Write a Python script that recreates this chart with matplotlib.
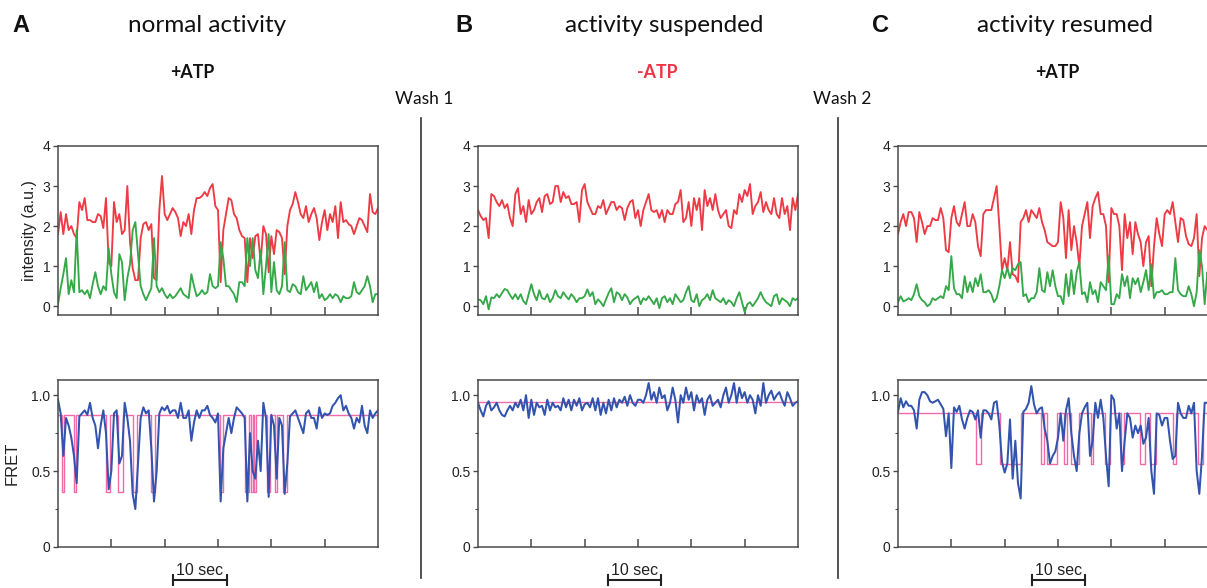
import numpy as np
import matplotlib
matplotlib.use("Agg")
import matplotlib.pyplot as plt
from matplotlib.lines import Line2D
from matplotlib.transforms import blended_transform_factory

# ---------------- data ----------------
DURATION = 60.0  # seconds shown on each trace (samples every 0.5 s)

panel_letters = ["A", "B", "C"]
panel_titles = ["normal activity", "activity suspended", "activity resumed"]
conditions = ["+ATP", "-ATP", "+ATP"]
wash_labels = ["Wash 1", "Wash 2"]
intensity_ticks = [0, 1, 2, 3, 4]
fret_ticks = [0, 0.5, 1.0]
fret_tick_labels = ["0", "0.5", "1.0"]
scale_bar_label = "10 sec"
scale_bar_length = 10.0

a_red = [1.8, 2.35, 1.8, 2.3, 1.9, 2.0, 1.8, 1.7, 2.6, 2.4,
         2.7, 2.15, 2.15, 2.1, 2.1, 2.3, 2.25, 1.95, 2.7, 1.1,
         1.0, 2.6, 2.1, 2.3, 1.8, 1.9, 3.0, 1.6, 0.95, 0.65,
         0.65, 1.7, 2.05, 2.1, 1.9, 2.05, 0.7, 0.65, 2.4, 3.25,
         2.3, 2.15, 2.3, 2.45, 2.35, 2.2, 1.75, 2.1, 2.0, 2.3,
         1.8, 2.4, 2.7, 2.7, 2.75, 2.85, 2.75, 2.95, 3.05, 2.5,
         2.4, 0.6, 1.9, 2.3, 2.7, 2.65, 2.3, 2.2, 1.9, 1.75,
         1.7, 0.6, 1.7, 1.2, 1.75, 1.8, 1.1, 2.0, 1.8, 0.85,
         1.75, 1.3, 1.9, 1.85, 1.7, 0.8, 2.0, 2.4, 2.55, 2.85,
         2.6, 2.3, 2.2, 2.5, 2.1, 2.3, 2.45, 2.2, 1.65, 2.1,
         2.4, 1.9, 2.3, 2.1, 2.5, 1.7, 2.6, 2.1, 2.15, 2.05,
         2.0, 1.8, 2.0, 2.2, 2.15, 2.0, 1.85, 2.8, 2.35, 2.3,
         2.45]
a_green = [0.05, 0.45, 0.8, 1.2, 0.3, 0.65, 0.35, 1.9, 0.35, 0.4,
           0.3, 0.4, 0.2, 0.55, 0.85, 0.5, 0.3, 0.5, 0.4, 1.45,
           0.8, 0.35, 0.2, 1.3, 1.1, 0.15, 0.7, 1.05, 1.9, 2.1,
           1.3, 0.5, 0.3, 0.15, 0.3, 0.45, 1.7, 0.5, 0.35, 0.45,
           0.3, 0.2, 0.3, 0.2, 0.25, 0.35, 0.45, 0.3, 0.25, 0.2,
           0.8, 0.5, 0.25, 0.3, 0.4, 0.3, 0.35, 0.8, 0.5, 0.45,
           0.5, 1.6, 1.2, 0.5, 0.5, 0.4, 0.3, 0.1, 0.6, 0.6,
           0.5, 1.7, 1.0, 1.7, 0.9, 0.7, 1.4, 0.3, 1.0, 1.8,
           0.35, 1.1, 0.4, 0.3, 0.5, 1.6, 0.4, 0.35, 0.55, 0.5,
           0.35, 0.3, 0.75, 0.4, 0.5, 0.6, 0.35, 0.6, 0.2, 0.3,
           0.15, 0.2, 0.3, 0.2, 0.3, 0.25, 0.1, 0.25, 0.2, 0.2,
           0.25, 0.6, 0.35, 0.3, 0.4, 0.5, 0.75, 0.5, 0.1, 0.3,
           0.3]
a_fret = [0.97, 0.88, 0.6, 0.85, 0.8, 0.72, 0.6, 0.42, 0.86, 0.88,
          0.9, 0.87, 0.95, 0.85, 0.8, 0.65, 0.8, 0.9, 0.75, 0.38,
          0.5, 0.88, 0.9, 0.55, 0.6, 0.95, 0.85, 0.7, 0.35, 0.25,
          0.55, 0.85, 0.92, 0.88, 0.9, 0.65, 0.3, 0.5, 0.88, 0.92,
          0.9, 0.93, 0.88, 0.9, 0.9, 0.85, 0.95, 0.85, 0.85, 0.9,
          0.7, 0.82, 0.9, 0.85, 0.9, 0.9, 0.93, 0.87, 0.85, 0.82,
          0.88, 0.3, 0.65, 0.75, 0.85, 0.75, 0.85, 0.92, 0.9, 0.88,
          0.85, 0.3, 0.75, 0.5, 0.45, 0.7, 0.5, 0.95, 0.85, 0.33,
          0.87, 0.8, 0.45, 0.85, 0.8, 0.35, 0.55, 0.86, 0.88, 0.9,
          0.85, 0.8, 0.75, 0.88, 0.9, 0.85, 0.85, 0.78, 0.92, 0.85,
          0.88, 0.87, 0.88, 0.93, 0.95, 0.98, 1.0, 0.9, 0.93, 0.88,
          0.85, 0.78, 0.85, 0.82, 0.93, 0.8, 0.75, 0.9, 0.85, 0.88,
          0.9]
a_fit_levels = [0.87, 0.36]
a_fit_low = [(0.75, 1.13), (2.94, 3.44), (8.95, 9.83), (11.2, 12.1), (14.0, 14.8),
             (17.5, 18.2), (30.4, 30.9), (35.1, 35.9), (36.1, 36.5), (36.8, 37.1),
             (39.1, 39.8), (40.7, 41.1), (42.1, 43.0)]

b_red = [2.4, 2.25, 2.15, 2.2, 1.7, 2.8, 2.75, 2.6, 2.5, 2.65,
         2.45, 2.55, 2.2, 2.0, 2.8, 2.95, 2.3, 2.5, 2.1, 2.65,
         2.3, 2.4, 2.6, 2.7, 2.35, 2.75, 2.8, 2.55, 2.6, 3.0,
         3.0, 2.6, 2.85, 2.7, 2.75, 2.55, 2.55, 2.6, 2.1, 2.9,
         3.05, 2.6, 2.45, 2.3, 2.3, 2.5, 2.45, 2.65, 2.3, 2.45,
         2.6, 2.6, 2.4, 2.5, 2.45, 2.15, 2.45, 2.6, 2.65, 2.2,
         2.4, 2.0, 2.4, 2.6, 2.8, 2.4, 2.35, 2.4, 2.2, 2.4,
         2.1, 2.4, 2.3, 2.3, 2.55, 2.6, 2.9, 2.1, 2.2, 2.6,
         2.0, 2.7, 2.4, 2.7, 1.9, 2.9, 2.5, 2.7, 2.4, 2.8,
         2.4, 2.2, 2.3, 2.4, 2.0, 1.95, 2.4, 2.3, 2.8, 2.6,
         2.9, 2.75, 3.05, 2.3, 2.5, 2.6, 2.85, 2.35, 2.6, 2.4,
         2.3, 2.7, 2.3, 2.2, 2.7, 2.3, 2.5, 1.9, 2.7, 2.4,
         2.8]
b_green = [0.17, 0.15, 0.05, 0.25, -0.08, 0.22, 0.2, 0.3, 0.22, 0.33,
           0.43, 0.4, 0.28, 0.18, 0.3, 0.17, 0.3, 0.13, 0.05, 0.3,
           0.55, 0.3, 0.15, 0.4, 0.2, 0.17, 0.3, 0.1, 0.2, 0.4,
           0.25, 0.2, 0.35, 0.25, 0.17, 0.3, 0.22, 0.1, 0.2, 0.2,
           0.25, 0.42, 0.25, 0.35, 0.05, 0.17, 0.1, 0.0, 0.17, 0.33,
           0.45, 0.1, 0.35, 0.3, 0.15, 0.3, 0.22, 0.05, 0.15, 0.2,
           0.25, 0.05, 0.2, 0.15, 0.25, 0.15, 0.05, 0.2, -0.05, 0.2,
           0.25, 0.1, 0.2, 0.05, 0.3, 0.2, 0.1, 0.15, 0.35, 0.5,
           0.15, 0.1, 0.3, 0.0, 0.15, 0.2, 0.3, 0.15, 0.4, 0.2,
           0.15, 0.1, 0.2, 0.05, 0.15, 0.1, 0.0, 0.2, 0.35, 0.1,
           -0.15, 0.05, 0.1, 0.0, 0.1, 0.2, 0.35, 0.2, 0.1, 0.05,
           0.0, 0.25, 0.3, 0.05, 0.2, 0.15, 0.1, 0.0, 0.2, 0.15,
           0.2]
b_fret = [0.95, 0.9, 0.86, 0.93, 0.96, 0.9, 0.92, 0.95, 0.9, 0.87,
          0.86, 0.9, 0.93, 0.9, 0.95, 0.92, 0.97, 0.9, 1.0, 0.85,
          0.97, 0.87, 0.95, 0.92, 0.93, 0.87, 0.97, 0.9, 0.95, 0.92,
          0.93, 0.9, 0.98, 0.92, 0.97, 0.9, 0.97, 0.93, 0.98, 0.9,
          0.94, 0.95, 0.92, 0.98, 0.9, 0.98, 0.87, 0.95, 0.88, 0.97,
          0.9, 0.98, 0.92, 0.97, 0.95, 0.99, 0.93, 1.0, 0.95, 0.93,
          0.97, 0.97, 0.95, 1.0, 1.08, 0.97, 1.02, 0.95, 1.05, 0.98,
          1.0, 0.9, 0.95, 1.05, 0.97, 0.82, 1.0, 0.95, 1.05, 0.97,
          1.02, 0.9, 1.0, 0.95, 0.98, 0.87, 0.97, 1.0, 0.93, 0.95,
          0.97, 0.92, 1.0, 1.05, 0.95, 1.0, 1.08, 0.95, 1.05, 0.98,
          1.02, 0.95, 1.0, 0.97, 0.88, 1.0, 0.93, 1.08, 0.95, 1.0,
          1.03, 0.97, 1.0, 1.02, 0.97, 0.93, 1.02, 0.98, 0.93, 0.95,
          0.96]
b_fit_levels = [0.955, 0.955]
b_fit_low = []

c_red = [1.8, 2.1, 2.3, 2.0, 2.35, 2.35, 2.2, 1.6, 2.35, 2.1,
         1.8, 2.0, 2.0, 2.2, 2.15, 2.15, 2.45, 2.2, 1.4, 1.35,
         2.2, 2.5, 2.1, 2.0, 2.3, 2.6, 2.0, 2.0, 2.3, 2.1,
         1.5, 1.25, 2.3, 2.4, 2.4, 2.4, 2.7, 3.0, 2.0, 0.9,
         1.2, 0.9, 1.6, 0.8, 0.75, 0.6, 2.1, 2.2, 2.4, 2.1,
         2.4, 2.3, 2.2, 2.45, 2.1, 1.9, 1.6, 1.55, 1.5, 1.5,
         1.6, 2.6, 2.2, 1.2, 2.4, 1.4, 2.0, 1.6, 1.0, 2.0,
         2.3, 2.6, 1.7, 2.5, 2.7, 2.85, 2.3, 2.3, 2.0, 0.6,
         2.45, 2.3, 2.3, 2.0, 0.9, 2.3, 1.7, 2.1, 1.3, 2.1,
         1.8, 1.6, 1.0, 1.6, 1.75, 0.5, 1.5, 2.2, 1.8, 1.5,
         2.3, 2.4, 2.3, 2.6, 2.1, 1.6, 2.2, 2.15, 1.75, 1.55,
         1.5, 1.7, 2.3, 0.75, 1.7, 2.0, 1.9, 2.1, 2.0, 2.2,
         2.1]
c_green = [0.1, 0.25, 0.12, 0.15, 0.2, 0.15, 0.3, 0.55, 0.25, 0.15,
           0.1, 0.0, 0.05, 0.2, 0.15, 0.2, 0.25, 0.2, 0.5, 0.4,
           1.25, 0.45, 0.3, 0.3, 0.2, 0.75, 0.35, 0.6, 0.35, 0.7,
           0.5, 0.8, 0.35, 0.35, 0.4, 0.3, 0.1, 0.2, 0.5, 0.9,
           0.7, 0.95, 0.7, 0.95, 0.9, 1.05, 1.1, 0.25, 0.3, 0.1,
           0.2, 0.2, 0.35, 0.95, 0.4, 0.35, 0.85, 0.5, 0.9, 0.5,
           0.25, 0.25, 0.05, 0.8, 0.25, 0.9, 0.3, 0.85, 1.1, 0.3,
           0.35, 0.1, 0.6, 0.3, 0.4, 0.1, 0.6, 0.5, 0.4, 1.25,
           0.05, 0.05, 0.3, 0.2, 0.8, 0.5, 0.75, 0.2, 0.7, 0.55,
           0.7, 0.35, 0.6, 0.9, 0.4, 1.05, 0.2, 0.35, 0.35, 0.4,
           0.3, 0.3, 0.35, 0.35, 1.2, 0.4, 0.3, 0.25, 0.25, 0.5,
           0.3, 0.0, 0.35, 1.4, 1.0, 0.05, 0.85, 0.4, 0.3, 0.35,
           0.3]
c_fret = [0.89, 0.98, 0.92, 0.96, 0.93, 0.93, 0.9, 0.78, 0.97, 1.02,
          1.02, 1.0, 0.96, 0.95, 0.96, 0.97, 0.94, 0.91, 0.73, 0.88,
          0.52, 0.92, 0.89, 0.93, 0.84, 0.78, 0.85, 0.9, 0.89, 0.84,
          0.9, 0.72, 0.9, 0.9, 0.88, 0.84, 0.95, 0.96, 0.8, 0.56,
          0.49, 0.55, 0.84, 0.45, 0.7, 0.42, 0.32, 0.89, 0.91, 0.95,
          1.06, 0.94, 0.88, 0.91, 0.92, 0.78, 0.7, 0.55, 0.6, 0.63,
          0.72, 0.88, 0.7, 0.9, 0.98, 0.75, 0.6, 0.5, 0.75, 0.88,
          0.92, 0.95, 0.6, 0.7, 0.95, 0.85, 0.97, 0.85, 0.6, 0.4,
          1.0, 0.97, 0.78, 0.88, 0.5, 0.7, 0.88, 0.85, 0.72, 0.8,
          0.75, 0.8, 0.68, 0.72, 0.85, 0.5, 0.35, 0.88, 0.87, 0.8,
          0.85, 0.85, 0.7, 0.58, 0.6, 0.95, 0.88, 0.85, 0.85, 0.93,
          0.88, 0.95, 0.5, 0.35, 0.6, 0.95, 0.95, 0.92, 0.9, 0.9,
          0.9]
c_fit_levels = [0.88, 0.545]
c_fit_low = [(14.6, 15.6), (19.1, 23.1), (26.75, 27.3), (27.9, 29.8), (31.1, 31.6),
             (32.5, 33.9), (36.1, 36.6), (38.75, 39.8), (41.75, 42.3), (45.3, 46.25),
             (47.2, 48.3), (51.6, 52.2), (56.25, 57.2)]

# ---------------- styling / layout ----------------
W, H = 1207, 588
RED = "#ee3a44"
GREEN = "#35a84a"
BLUE = "#3253ae"
PINK = "#f26aa8"
AX_COLOR = "#4a4a4a"
HEAD_FONT = "Lato"
TICK_FONT = "Liberation Sans"

fig = plt.figure(figsize=(W / 100, H / 100), dpi=100)
fig.patch.set_facecolor("white")


def fx(px):
    return px / W


def fy(py):
    return 1 - py / H


def add_ax(x0, y0, x1, y1):
    return fig.add_axes([fx(x0), fy(y1), (x1 - x0) / W, (y1 - y0) / H])


def style_ax(ax):
    for s in ax.spines.values():
        s.set_color(AX_COLOR)
        s.set_linewidth(1.1)
    ax.set_xlim(0, DURATION)
    ax.set_xticks([10, 20, 30, 40, 50])
    ax.set_xticklabels([])
    ax.tick_params(axis="x", direction="in", length=6, width=1.1, color=AX_COLOR)
    ax.tick_params(axis="y", direction="out", length=3.5, width=1.0, color=AX_COLOR,
                   labelsize=10, labelcolor="#222222", pad=2)
    for lab in ax.get_yticklabels():
        lab.set_fontfamily(TICK_FONT)


def step_fit(levels, lows):
    hi, lo = levels
    xs, ys = [0.0], [hi]
    for s, e in lows:
        xs += [s, s, e, e]
        ys += [hi, lo, lo, hi]
    xs.append(DURATION)
    ys.append(hi)
    return xs, ys


panels = [
    (a_red, a_green, a_fret, a_fit_levels, a_fit_low),
    (b_red, b_green, b_fret, b_fit_levels, b_fit_low),
    (c_red, c_green, c_fret, c_fit_levels, c_fit_low),
]
ax_left = [58, 478, 898]
scale_start = [21.6, 24.4, 25.1]

for k, (red, green, fret, lv, lows) in enumerate(panels):
    x0 = ax_left[k]
    x1 = x0 + 320
    # intensity
    ax = add_ax(x0, 146, x1, 315)
    t = np.linspace(0, DURATION, len(red))
    ax.plot(t, red, color=RED, lw=1.35)
    t = np.linspace(0, DURATION, len(green))
    ax.plot(t, green, color=GREEN, lw=1.35)
    ax.set_ylim(-0.22, 4)
    ax.set_yticks(intensity_ticks)
    ax.set_yticklabels([str(v) for v in intensity_ticks])
    style_ax(ax)
    if k == 0:
        ax.set_ylabel("intensity (a.u.)", fontsize=11.5, family=TICK_FONT,
                      color="#222222", labelpad=4)

    # FRET
    ax2 = add_ax(x0, 380, x1, 547)
    xs, ys = step_fit(lv, lows)
    ax2.plot(xs, ys, color=PINK, lw=1.0)
    t = np.linspace(0, DURATION, len(fret))
    ax2.plot(t, fret, color=BLUE, lw=1.45)
    ax2.set_ylim(0, 1.1)
    ax2.set_yticks(fret_ticks)
    ax2.set_yticklabels(fret_tick_labels)
    ax2.set_yticks([0.25, 0.75], minor=True)
    ax2.tick_params(axis="y", which="minor", direction="out", length=2.5,
                    width=0.8, color=AX_COLOR)
    style_ax(ax2)
    if k == 0:
        ax2.set_ylabel("FRET", fontsize=12, family=TICK_FONT, color="#222222",
                       labelpad=8)

    # scale bar
    tr = blended_transform_factory(ax2.transData, ax2.transAxes)
    s0 = scale_start[k]
    s1 = s0 + scale_bar_length
    ax2.plot([s0, s1], [-0.2, -0.2], color="#222222", lw=1.5, transform=tr,
             clip_on=False)
    for sx in (s0, s1):
        ax2.plot([sx, sx], [-0.17, -0.23], color="#222222", lw=1.5, transform=tr,
                 clip_on=False)
    ax2.text((s0 + s1) / 2, -0.185, scale_bar_label, transform=tr, ha="center",
             va="bottom", fontsize=11.5, family=TICK_FONT, color="#222222")

# headers
letter_x = [12, 455, 872]
title_cx = [207, 664, 1065]
cond_cx = [192, 657, 1057]
cond_colors = ["#111111", "#ee3344", "#111111"]
for k in range(3):
    fig.text(fx(letter_x[k]), fy(25), panel_letters[k], fontsize=17, fontweight="bold",
             family=TICK_FONT, ha="left", va="center", color="#111111")
    fig.text(fx(title_cx[k]), fy(25), panel_titles[k], fontsize=17.5, family=HEAD_FONT,
             ha="center", va="center", color="#111111")
    fig.text(fx(cond_cx[k]), fy(72), conditions[k], fontsize=12.8, fontweight="bold",
             family=HEAD_FONT, ha="center", va="center", color=cond_colors[k])

# wash separators
wash_x = [421, 838]
wash_lab_x = [424, 842]
for k in range(2):
    fig.add_artist(Line2D([fx(wash_x[k])] * 2, [fy(118), fy(578)], color="#333333",
                          lw=1.2))
    fig.text(fx(wash_lab_x[k]), fy(99), wash_labels[k], fontsize=12.5, family=HEAD_FONT,
             ha="center", va="center", color="#111111")

fig.savefig("out.png", dpi=100, facecolor="white")
